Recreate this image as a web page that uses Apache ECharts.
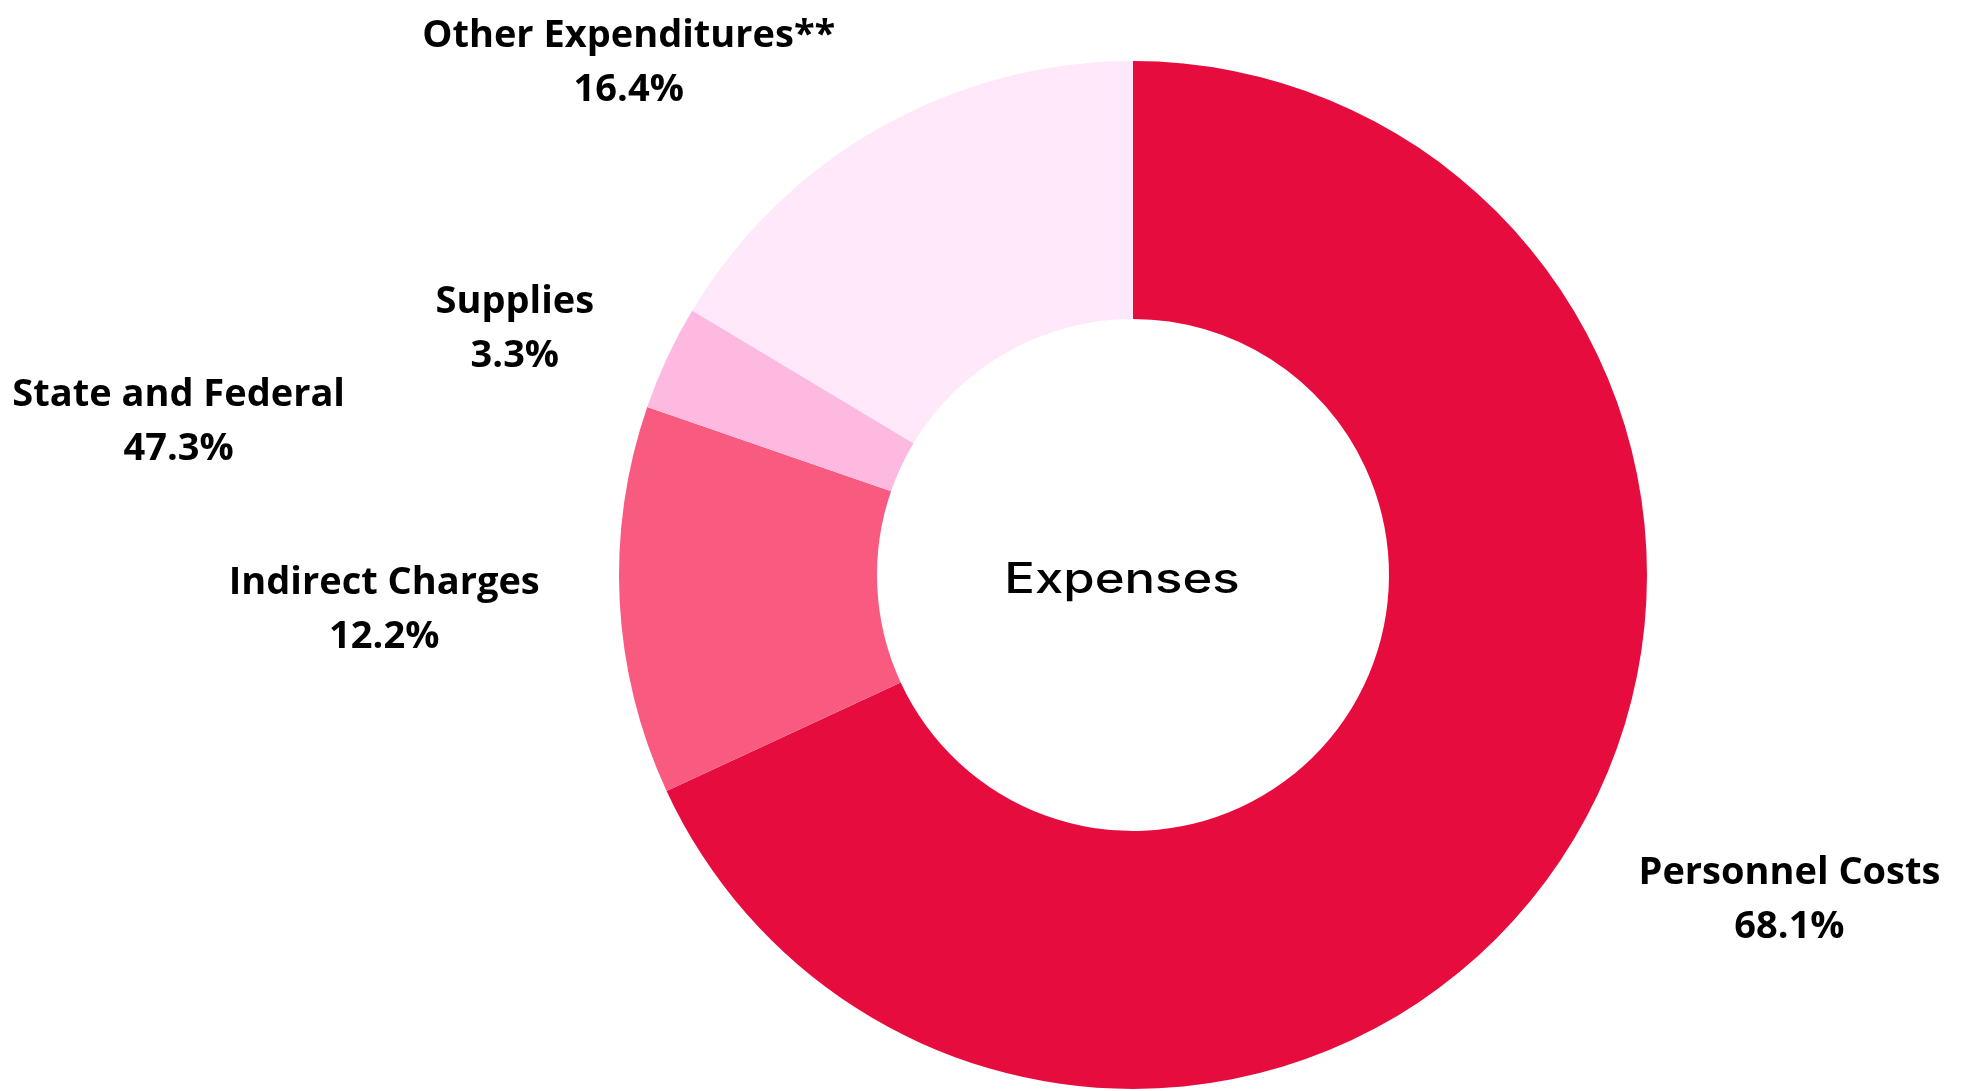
<!DOCTYPE html>
<html>
<head>
<meta charset="utf-8">
<title>Expenses</title>
<script src="https://cdn.jsdelivr.net/npm/echarts@6/dist/echarts.min.js"></script>
<style>
  html, body { margin: 0; padding: 0; background: #fff; }
  #chart { width: 1987px; height: 1091px; }
</style>
</head>
<body>
<div id="chart"></div>
<script>
// slice names, clockwise from 12 o'clock
var categories = ['Personnel Costs', 'Indirect Charges', 'State and Federal', 'Supplies', 'Other Expenditures**'];
// slice sizes (State and Federal has no visible slice)
var sliceValues = [68.1, 12.2, 0, 3.3, 16.4];
// percentages printed in the labels
var labelPct = ['68.1%', '12.2%', '47.3%', '3.3%', '16.4%'];
var sliceColors = ['#e60d3e', '#f95a80', '#fdb9e0', '#fdb9e0', '#ffe8fa'];

var chart = echarts.init(document.getElementById('chart'));

var data = categories.map(function (name, i) {
  return { name: name, value: sliceValues[i], itemStyle: { color: sliceColors[i] } };
});

var option = {
  animation: false,
  graphic: [{
    type: 'text',
    x: 1122,
    y: 580,
    scaleX: 1.21,
    style: {
      text: 'Expenses',
      font: '500 42px Inter',
      fill: '#000',
      align: 'center',
      verticalAlign: 'middle'
    }
  }],
  series: [{
    type: 'pie',
    center: [1133, 575],
    radius: [256, 514],
    startAngle: 90,
    clockwise: true,
    data: data,
    label: {
      show: true,
      position: 'outside',
      formatter: function (p) {
        return '{n|' + p.name + '}\n{n|' + labelPct[p.dataIndex] + '}';
      },
      rich: {
        n: {
          fontFamily: 'Open Sans',
          fontWeight: 'bold',
          fontSize: 38,
          lineHeight: 54,
          color: '#000',
          align: 'center'
        }
      }
    },
    labelLine: { show: false, length: 80, length2: 0 },
    // the zero slice's label was pushed out to the left in the original
    labelLayout: function (params) {
      if (params.dataIndex === 2) return { dx: -215, dy: 4 };
      return { dy: 5 };
    },
    emphasis: { disabled: true }
  }]
};

chart.setOption(option);
</script>
</body>
</html>
